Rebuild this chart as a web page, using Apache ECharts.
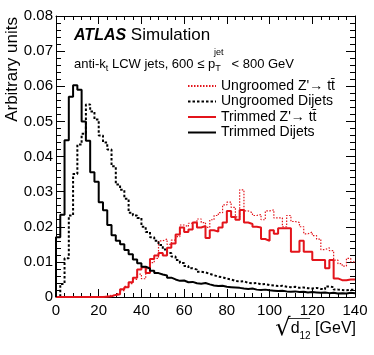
<!DOCTYPE html>
<html>
<head>
<meta charset="utf-8">
<script src="https://cdn.jsdelivr.net/npm/echarts@6/dist/echarts.min.js"></script>
<style>
  html, body { margin: 0; padding: 0; background: #fff; }
  #chart { width: 374px; height: 355px; }
</style>
</head>
<body>
<div id="chart"></div>
<script>
// histogram bin edges: 70 bins of 2 GeV from 0 to 140
const binWidth = 2;
const xTicks = [0, 20, 40, 60, 80, 100, 120, 140];
const yTicks = [0, 0.01, 0.02, 0.03, 0.04, 0.05, 0.06, 0.07, 0.08];

const seriesNames = ["Ungroomed Z'\u2192 tt\u0304", 'Ungroomed Dijets', "Trimmed Z'\u2192 tt\u0304", 'Trimmed Dijets'];

// Ungroomed Z'->tt (red dotted)
const ungroomedZp = [
  0, 0, 0, 0, 0, 0, 0, 0, 0, 0,
  0, 0.0003, 0.0005, 0.0004, 0.0010, 0.0018, 0.0030, 0.0038, 0.0050, 0.0065,
  0.0052, 0.0080, 0.0098, 0.0110, 0.0160, 0.0165, 0.0150, 0.0162, 0.0172, 0.0205,
  0.0200, 0.0210, 0.0215, 0.0222, 0.0212, 0.0198, 0.0220, 0.0232, 0.0240, 0.0262,
  0.0270, 0.0255, 0.0228, 0.0305, 0.0245, 0.0240, 0.0232, 0.0235, 0.0220, 0.0245,
  0.0248, 0.0225, 0.0225, 0.0200, 0.0232, 0.0215, 0.0212, 0.0200, 0.0180, 0.0185,
  0.0175, 0.0165, 0.0135, 0.0140, 0.0132, 0.0105, 0.0095, 0.0088, 0.0110, 0.0100
];

// Ungroomed dijets (black dotted)
const ungroomedDijets = [
  0, 0.0037, 0.0110, 0.0232, 0.0350, 0.0434, 0.0465, 0.0548, 0.0528, 0.0505,
  0.0460, 0.0440, 0.0420, 0.0372, 0.0320, 0.0305, 0.0280, 0.0240, 0.0232, 0.0225,
  0.0200, 0.0185, 0.0170, 0.0160, 0.0148, 0.0135, 0.0125, 0.0115, 0.0105, 0.0097,
  0.0088, 0.0082, 0.0078, 0.0072, 0.0070, 0.0066, 0.0062, 0.0058, 0.0056, 0.0052,
  0.0050, 0.0046, 0.0044, 0.0045, 0.0040, 0.0039, 0.0040, 0.0036, 0.0037, 0.0034,
  0.0033, 0.0031, 0.0032, 0.0029, 0.0028, 0.0029, 0.0026, 0.0027, 0.0025, 0.0024,
  0.0026, 0.0023, 0.0022, 0.0030, 0.0028, 0.0021, 0.0020, 0.0019, 0.0021, 0.0020
];

// Trimmed Z'->tt (red solid)
const trimmedZp = [
  0, 0, 0, 0, 0, 0, 0, 0, 0, 0,
  0, 0.0001, 0.0002, 0.0006, 0.0008, 0.0022, 0.0028, 0.0042, 0.0055, 0.0078,
  0.0085, 0.0068, 0.0108, 0.0118, 0.0125, 0.0118, 0.0140, 0.0152, 0.0178, 0.0198,
  0.0185, 0.0192, 0.0212, 0.0198, 0.0202, 0.0168, 0.0190, 0.0186, 0.0198, 0.0212,
  0.0245, 0.0228, 0.0220, 0.0248, 0.0212, 0.0208, 0.0200, 0.0198, 0.0165, 0.0160,
  0.0190, 0.0180, 0.0196, 0.0196, 0.0196, 0.0129, 0.0129, 0.0160, 0.0129, 0.0129,
  0.0105, 0.0105, 0.0105, 0.0082, 0.0105, 0.0053, 0.0048, 0.0048, 0.0050, 0.0050
];

// Trimmed dijets (black solid)
const trimmedDijets = [
  0.0170, 0.0234, 0.0446, 0.0570, 0.0603, 0.0590, 0.0500, 0.0445, 0.0355, 0.0328,
  0.0270, 0.0247, 0.0205, 0.0176, 0.0160, 0.0150, 0.0134, 0.0122, 0.0107, 0.0096,
  0.0086, 0.0081, 0.0075, 0.0068, 0.0064, 0.0061, 0.0055, 0.0050, 0.0046, 0.0047,
  0.0042, 0.0043, 0.0039, 0.0038, 0.0040, 0.0036, 0.0033, 0.0031, 0.0032, 0.0029,
  0.0028, 0.0027, 0.0026, 0.0024, 0.0023, 0.0024, 0.0021, 0.0020, 0.0021, 0.0019,
  0.0018, 0.0017, 0.0018, 0.0016, 0.0015, 0.0016, 0.0014, 0.0015, 0.0013, 0.0014,
  0.0013, 0.0012, 0.0013, 0.0011, 0.0012, 0.0010, 0.0011, 0.0010, 0.0012, 0.0011
];

const RED = '#e3141b';
const FONT = 'Liberation Sans';

// turn bin contents into step points (ROOT-like outline)
function histPoints(bins) {
  const pts = [[0, 0]];
  bins.forEach(function (v, i) { pts.push([i * binWidth, v]); });
  pts.push([bins.length * binWidth, bins[bins.length - 1]]);
  return pts;
}

function histSeries(name, bins, color, width, type) {
  return {
    name: name,
    type: 'line',
    step: 'end',
    symbol: 'none',
    silent: true,
    animation: false,
    data: histPoints(bins),
    lineStyle: { color: color, width: width, type: type },
    itemStyle: { color: color }
  };
}

const baseX = {
  type: 'value', min: xTicks[0], max: xTicks[xTicks.length - 1], interval: xTicks[1] - xTicks[0],
  axisLine: { show: true, onZero: false, lineStyle: { color: '#000', width: 1 } },
  axisTick: { show: true, inside: true, length: 8, lineStyle: { color: '#000' } },
  minorTick: { show: true, splitNumber: 5, length: 4, lineStyle: { color: '#000' } },
  splitLine: { show: false }
};
const baseY = {
  type: 'value', min: yTicks[0], max: yTicks[yTicks.length - 1], interval: yTicks[1] - yTicks[0],
  axisLine: { show: true, onZero: false, lineStyle: { color: '#000', width: 1 } },
  axisTick: { show: true, inside: true, length: 9, lineStyle: { color: '#000' } },
  minorTick: { show: true, splitNumber: 5, length: 5, lineStyle: { color: '#000' } },
  splitLine: { show: false }
};

const chart = echarts.init(document.getElementById('chart'), null, { renderer: 'canvas' });

chart.setOption({
  backgroundColor: '#fff',
  grid: { left: 56, right: 19, top: 16, bottom: 58 },
  xAxis: [
    Object.assign({}, baseX, {
      position: 'bottom',
      axisLabel: { show: true, margin: 6, color: '#000', fontSize: 15, fontFamily: FONT }
    }),
    Object.assign({}, baseX, { position: 'top', axisLabel: { show: false } })
  ],
  yAxis: [
    Object.assign({}, baseY, {
      position: 'left',
      axisLabel: {
        show: true, margin: 3, color: '#000', fontSize: 15, fontFamily: FONT,
        formatter: function (v) { return v === 0 ? '0' : v.toFixed(2); }
      }
    }),
    Object.assign({}, baseY, { position: 'right', axisLabel: { show: false } })
  ],
  legend: {
    left: 187, top: 79, orient: 'vertical', padding: 0,
    itemWidth: 28, itemHeight: 14, itemGap: 1.5,
    itemStyle: { opacity: 0 },
    textStyle: { fontSize: 14, fontFamily: FONT, color: '#000' },
    data: seriesNames
  },
  series: [
    histSeries(seriesNames[0], ungroomedZp, RED, 1.2, [1.5, 1.5]),
    histSeries(seriesNames[1], ungroomedDijets, '#000', 2, [2.5, 2]),
    histSeries(seriesNames[2], trimmedZp, RED, 2, 'solid'),
    histSeries(seriesNames[3], trimmedDijets, '#000', 2, 'solid')
  ],
  graphic: [
    {
      type: 'text', left: 74, top: 27,
      style: {
        text: '{atl|ATLAS} Simulation', fill: '#000',
        fontSize: 17, fontFamily: FONT,
        rich: {
          atl: { fontSize: 16, fontWeight: 'bold', fontStyle: 'italic', fontFamily: FONT }
        }
      }
    },
    {
      type: 'text', left: 74, top: 55,
      style: {
        text: 'anti-k{sub|t} LCW jets, 600 \u2264 p{sub|T}   < 800 GeV', fill: '#000',
        fontSize: 13, fontFamily: FONT, lineHeight: 18,
        rich: {
          sub: { fontSize: 9, fontFamily: FONT, lineHeight: 9, verticalAlign: 'bottom' }
        }
      }
    },
    {
      type: 'text', left: 214, top: 48,
      style: { text: 'jet', fontSize: 9, fontFamily: FONT, fill: '#000' }
    },
    {
      type: 'text', x: 4, y: 17, rotation: Math.PI / 2,
      style: { text: 'Arbitrary units', fontSize: 17, fontFamily: FONT, fill: '#000', align: 'right', verticalAlign: 'top' }
    },
    {
      type: 'text', right: 18, top: 317,
      style: {
        text: '{root|\u221A}d{sub|12} [GeV]', fill: '#000',
        fontSize: 16, fontFamily: FONT, lineHeight: 24,
        rich: {
          root: { fontSize: 24, fontFamily: 'DejaVu Sans', lineHeight: 24 },
          sub: { fontSize: 10, fontFamily: FONT, lineHeight: 10, verticalAlign: 'bottom' }
        }
      }
    },
    {
      type: 'line', shape: { x1: 288, y1: 318.5, x2: 310, y2: 318.5 },
      style: { stroke: '#000', lineWidth: 0.8 }
    }
  ]
});
</script>
</body>
</html>
